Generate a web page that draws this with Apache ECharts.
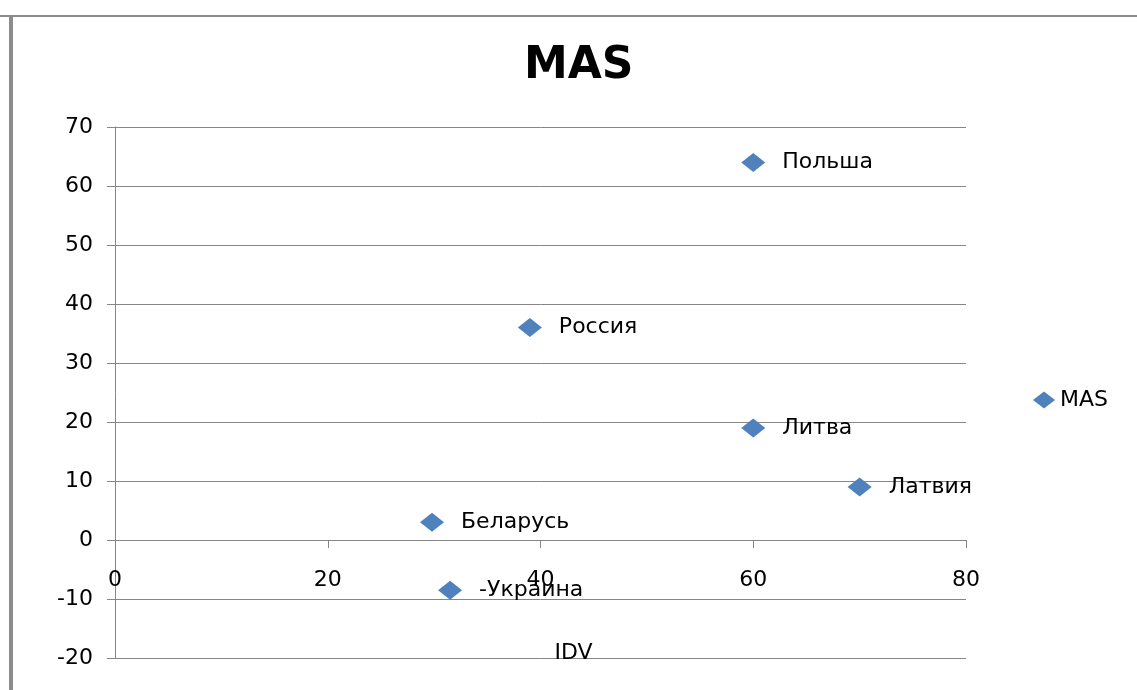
<!DOCTYPE html>
<html>
<head>
<meta charset="utf-8">
<script src="https://cdn.jsdelivr.net/npm/echarts@6/dist/echarts.min.js"></script>
<style>
  html, body { margin: 0; padding: 0; background: #fff; }
  #chart { width: 1137px; height: 690px; }
</style>
</head>
<body>
<div id="chart"></div>
<script>
// countries with IDV (x) and MAS (y)
const countries = ['Польша', 'Россия', 'Литва', 'Латвия', 'Беларусь', '-Украина'];
const idv = [60, 39, 60, 70, 29.8, 31.5];
const mas = [64, 36, 19, 9, 3, -8.5];
const xTicks = [0, 20, 40, 60, 80];
const yTicks = [-20, -10, 0, 10, 20, 30, 40, 50, 60, 70];

const points = countries.map((c, i) => ({ name: c, value: [idv[i], mas[i]] }));

const chart = echarts.init(document.getElementById('chart'));

const font = 'DejaVu Sans';
const gray = '#868686';

chart.setOption({
    animation: false,
    title: {
        text: 'MAS',
        left: 519,
        top: 40,
        textStyle: { fontFamily: font, fontWeight: 'bold', fontSize: 44, color: '#000' }
    },
    legend: {
        left: 1028,
        top: 384,
        itemWidth: 22,
        itemHeight: 17,
        itemGap: 4,
        textStyle: { fontFamily: font, fontSize: 22, color: '#000' },
        data: [{ name: 'MAS', icon: 'diamond' }]
    },
    grid: { left: 115, right: 171, top: 127, bottom: 32, containLabel: false, outerBoundsMode: 'none' },
    xAxis: {
        type: 'value',
        min: xTicks[0],
        max: xTicks[xTicks.length - 1],
        interval: 20,
        name: 'IDV',
        nameLocation: 'middle',
        nameGap: -16,
        nameTextStyle: { fontFamily: font, fontSize: 22, color: '#000', padding: [0, 0, 0, 66] },
        axisLine: { onZero: true, lineStyle: { color: gray } },
        axisTick: { show: true, length: 8, lineStyle: { color: gray } },
        axisLabel: { margin: -89, fontFamily: font, fontSize: 22, color: '#000' },
        splitLine: { show: false }
    },
    yAxis: {
        type: 'value',
        min: yTicks[0],
        max: yTicks[yTicks.length - 1],
        interval: 10,
        axisLine: { show: true, onZero: false, lineStyle: { color: gray } },
        axisTick: { show: true, length: 8, lineStyle: { color: gray } },
        axisLabel: { margin: 22, fontFamily: font, fontSize: 22, color: '#000' },
        splitLine: { show: true, lineStyle: { color: gray, width: 1 } }
    },
    series: [{
        name: 'MAS',
        type: 'scatter',
        symbol: 'diamond',
        symbolSize: [24, 19],
        itemStyle: { color: '#4F81BD', opacity: 1 },
        label: {
            show: true,
            position: 'right',
            distance: 17,
            formatter: '{b}',
            fontFamily: font,
            fontSize: 22,
            color: '#000'
        },
        data: points
    }],
    graphic: [
        { type: 'rect', shape: { x: 0, y: 15, width: 1137, height: 2 }, style: { fill: '#8c8c8c' }, silent: true },
        { type: 'rect', shape: { x: 9, y: 15, width: 4, height: 675 }, style: { fill: '#8c8c8c' }, silent: true }
    ]
});
</script>
</body>
</html>
